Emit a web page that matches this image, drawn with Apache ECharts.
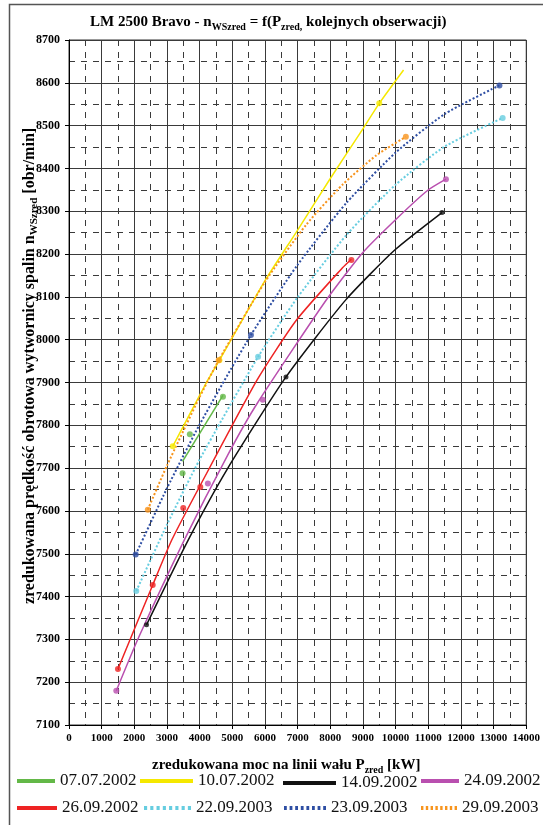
<!DOCTYPE html>
<html><head><meta charset="utf-8">
<script src="https://cdn.jsdelivr.net/npm/echarts@6/dist/echarts.min.js"></script>
<style>html,body{margin:0;padding:0;background:#fff}#c{width:543px;height:825px}</style>
</head><body><div id="c"></div>
<script>
// ---- data ----
const seriesNames = ['07.07.2002','10.07.2002','14.09.2002','24.09.2002','26.09.2002','22.09.2003','23.09.2003','29.09.2003'];
const xMin = 0, xMax = 14000, xStep = 1000;
const yMin = 7100, yMax = 8700, yStep = 100;

// trend curves [P_zred kW, n rpm]
const trend_070702 = [[3477,7716],[4714,7870]];
const trend_100702 = [[3176,7751],[4252,7906],[4605,7952],[6010,8139],[6966,8252],[7971,8373],[8978,8490],[9499,8552],[10244,8630]];
const trend_140902 = [[2373,7334],[3649,7532],[4855,7699],[6644,7913],[8474,8093],[9982,8210],[11420,8297]];
const trend_240902 = [[1448,7180],[2141,7306],[3528,7532],[4855,7730],[5760,7851],[7871,8092],[8978,8202],[9982,8279],[10986,8349],[11541,8375]];
const trend_260902 = [[1499,7231],[2563,7427],[3146,7532],[4020,7660],[5760,7906],[6966,8046],[8374,8168],[8646,8188]];
const trend_220903 = [[2060,7413],[3000,7568],[4000,7720],[5790,7960],[7000,8099],[8500,8245],[10000,8362],[11500,8451],[13278,8518]];
const trend_230903 = [[2042,7498],[3000,7653],[4000,7802],[5570,8011],[7000,8175],[8500,8320],[10000,8437],[11500,8527],[13179,8594]];
const trend_290903 = [[2413,7603],[3000,7706],[4000,7866],[4584,7952],[6000,8135],[7268,8269],[8374,8362],[9400,8430],[10314,8474]];

// observation points
const pts_070702 = [[3477,7688],[3700,7779],[4714,7867]];
const pts_100702 = [[3176,7751],[4605,7952],[9499,8552]];
const pts_140902 = [[2373,7334],[6644,7913],[11420,8297]];
const pts_240902 = [[1448,7180],[4252,7664],[5932,7860],[11541,8375]];
const pts_260902 = [[1499,7231],[2563,7427],[3498,7607],[4020,7656],[8646,8186]];
const pts_220903 = [[2060,7413],[5790,7960],[13278,8518]];
const pts_230903 = [[2042,7498],[5570,8011],[13179,8594]];
const pts_290903 = [[2413,7603],[4584,7952],[10314,8474]];

const trends = [trend_070702,trend_100702,trend_140902,trend_240902,trend_260902,trend_220903,trend_230903,trend_290903];
const points = [pts_070702,pts_100702,pts_140902,pts_240902,pts_260902,pts_220903,pts_230903,pts_290903];

// ---- styling ----
const colors = ['#63B847','#F5E800','#111111','#B94FAF','#EE2323','#66CDE0','#2E4EA3','#F7941D'];
const dotted = [false,false,false,false,false,true,true,true];
const legendPos = [
  {left:17, top:772, w:38}, {left:140, top:772, w:53}, {left:283, top:774, w:53}, {left:421, top:772, w:38},
  {left:17, top:799, w:40}, {left:144, top:799, w:47}, {left:284, top:799, w:42}, {left:421, top:799, w:36}
];
const SERIF = 'Liberation Serif';
const dotPath = 'path://M0,0h3v3h-3zM6,0h3v3h-3zM12,0h3v3h-3zM18,0h3v3h-3zM24,0h3v3h-3zM30,0h3v3h-3zM36,0h3v3h-3zM42,0h3v3h-3z';

const series = [];
seriesNames.forEach((n,i)=>{
  series.push({
    name:n, type:'line', data:trends[i], smooth:0.2, showSymbol:false, symbol:'none',
    color:colors[i], z:2, silent:true,
    lineStyle:{color:colors[i], width: dotted[i]?2:1.5, type: dotted[i]?[2,2]:'solid'}
  });
});
seriesNames.forEach((n,i)=>{
  series.push({
    name:n, type:'scatter', data:points[i], symbol:'circle', symbolSize: i===2?5:6,
    itemStyle:{color:colors[i]}, z:3
  });
});

const legends = seriesNames.map((n,i)=>({
  data:[{name:n, icon: dotted[i]?dotPath:'rect', itemStyle:{color:colors[i], borderWidth:0}}],
  left:legendPos[i].left, top:legendPos[i].top, padding:0,
  itemWidth:legendPos[i].w, itemHeight:4, symbolKeepAspect:false,
  selectedMode:false,
  textStyle:{fontFamily:SERIF, fontSize:17, color:'#111', lineHeight:18}
}));

const sub = (sz)=>({fontFamily:SERIF, fontWeight:'bold', fontSize:sz, color:'#000'});
const plain = v => String(v);

const option = {
  animation:false,
  backgroundColor:'#fff',
  title:[
    {text:'{a|LM 2500 Bravo - n}{s|WSzred}{a| = f(P}{s|zred,}{a| kolejnych obserwacji)}',
     left:90, top:12, padding:0,
     textStyle:{rich:{a:Object.assign(sub(15),{lineHeight:20,verticalAlign:'middle'}), s:Object.assign(sub(10),{lineHeight:10,verticalAlign:'bottom'})}}},
    {text:'{a|zredukowana moc na linii wału P}{s|zred}{a| [kW]}',
     left:152, top:755, padding:0,
     textStyle:{rich:{a:Object.assign(sub(15),{lineHeight:20,verticalAlign:'middle'}), s:Object.assign(sub(10),{lineHeight:10,verticalAlign:'bottom'})}}}
  ],
  legend:legends,
  grid:{left:69, right:10, top:40, bottom:100, show:true, borderColor:'#333', borderWidth:1},
  xAxis:{
    type:'value', min:xMin, max:xMax, interval:xStep,
    axisLine:{show:true, onZero:false, lineStyle:{color:'#000', width:1}},
    axisTick:{show:true, inside:false, length:4, lineStyle:{color:'#000'}},
    axisLabel:{fontFamily:SERIF, fontWeight:'bold', fontSize:11, color:'#000', margin:8, showMaxLabel:true, showMinLabel:true, hideOverlap:false, formatter:plain},
    splitLine:{show:true, lineStyle:{color:'#3a3a3a', width:1}},
    minorTick:{show:false, splitNumber:2},
    minorSplitLine:{show:true, lineStyle:{color:'#3a3a3a', width:1, type:[6,6]}}
  },
  yAxis:{
    type:'value', min:yMin, max:yMax, interval:yStep,
    axisLine:{show:true, lineStyle:{color:'#000', width:1}},
    axisTick:{show:true, inside:false, length:4, lineStyle:{color:'#000'}},
    axisLabel:{fontFamily:SERIF, fontWeight:'bold', fontSize:12, color:'#000', margin:9, formatter:plain},
    splitLine:{show:true, lineStyle:{color:'#3a3a3a', width:1}},
    minorTick:{show:false, splitNumber:2},
    minorSplitLine:{show:true, lineStyle:{color:'#3a3a3a', width:1, type:[6,6]}}
  },
  graphic:[
    {type:'rect', z:-10, shape:{x:9.5, y:4.5, width:700, height:1000}, style:{fill:'none', stroke:'#555', lineWidth:1.5}},
    {type:'text', x:30, y:366, rotation:Math.PI/2, z:10,
     style:{text:'{a|zredukowana prędkość obrotowa wytwornicy spalin n}{s|WSzred}{a| [obr/min]}', align:'center', verticalAlign:'middle',
       rich:{a:Object.assign(sub(16),{lineHeight:20,verticalAlign:'middle'}), s:Object.assign(sub(11),{lineHeight:10,verticalAlign:'bottom'})}}}
  ],
  series:series
};
const chart = echarts.init(document.getElementById('c'), null, {renderer:'canvas'});
chart.setOption(option);
</script></body></html>
